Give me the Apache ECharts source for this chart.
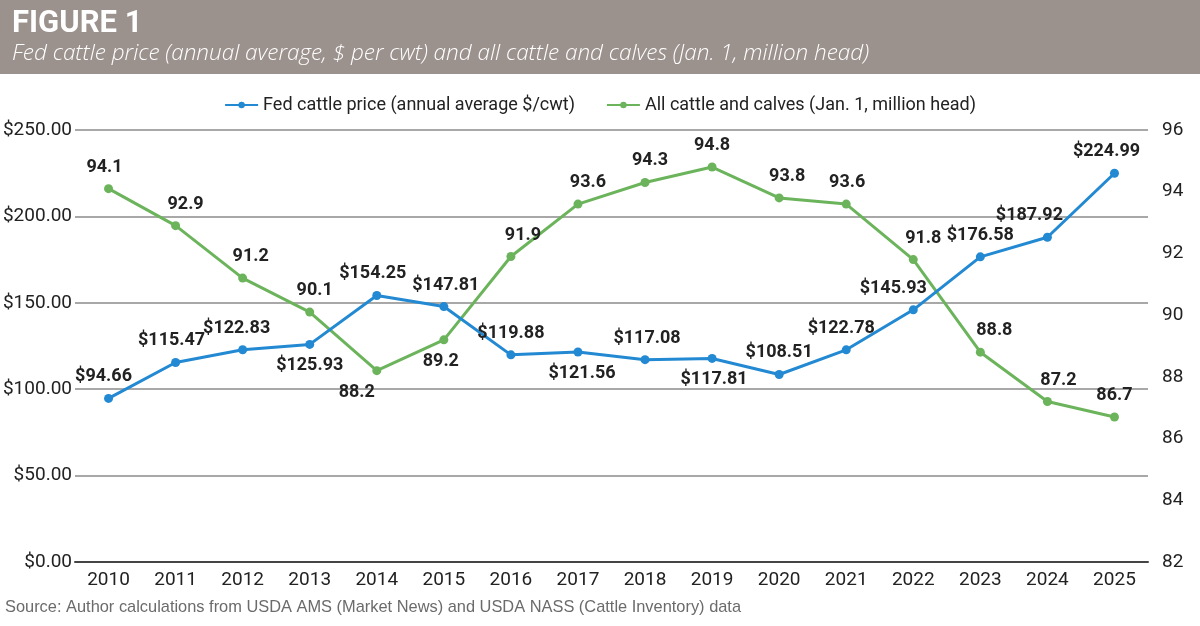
<!DOCTYPE html>
<html>
<head>
<meta charset="utf-8">
<script src="https://cdn.jsdelivr.net/npm/echarts@6/dist/echarts.min.js"></script>
<style>
  html, body { margin: 0; padding: 0; background: #fff; }
  #main { width: 1200px; height: 626px; }
</style>
</head>
<body>
<div id="main"></div>
<script>
// data
let years = ['2010', '2011', '2012', '2013', '2014', '2015', '2016', '2017',
    '2018', '2019', '2020', '2021', '2022', '2023', '2024', '2025'];
let fedPrice = [94.66, 115.47, 122.83, 125.93, 154.25, 147.81, 119.88, 121.56,
    117.08, 117.81, 108.51, 122.78, 145.93, 176.58, 187.92, 224.99];
let cattleHead = [94.1, 92.9, 91.2, 90.1, 88.2, 89.2, 91.9, 93.6,
    94.3, 94.8, 93.8, 93.6, 91.8, 88.8, 87.2, 86.7];

// label placement (style only)
let priceLabelPos = ['top', 'top', 'top', 'bottom', 'top', 'top', 'top', 'bottom',
    'top', 'bottom', 'top', 'top', 'top', 'top', 'top', 'top'];
let priceLabelDx = [-5, -4, -6, 0, -4, 2, 0, 4, 2, 2, 0, -5, -20, 0, -18, -8];
let headLabelPos = ['top', 'top', 'top', 'top', 'bottom', 'bottom', 'top', 'top',
    'top', 'top', 'top', 'top', 'top', 'top', 'top', 'top'];
let headLabelDx = [-4, 10, 8, 5, -20, -3, 12, 10, 5, 0, 8, 1, 10, 14, 11, 0];

let BLUE = '#2289d2';
let GREEN = '#6cb45c';
let sans = 'Roboto, "Liberation Sans", sans-serif';

let chart = echarts.init(document.getElementById('main'));

function buildData(values, pos, dx, fmt) {
    return values.map(function (v, i) {
        return {
            value: v,
            label: {
                position: pos[i],
                offset: [dx[i], pos[i] === 'top' ? -2 : 2],
                formatter: fmt
            }
        };
    });
}

let option = {
    backgroundColor: '#fff',
    animation: false,
    graphic: [
        {
            type: 'rect',
            shape: { x: 0, y: 0, width: 1200, height: 74 },
            style: { fill: '#9b918d' }
        },
        {
            type: 'text',
            left: 12, top: 9,
            style: {
                text: 'FIGURE 1',
                fill: '#fff',
                font: 'bold 31px ' + sans
            }
        },
        {
            type: 'text',
            left: 12, top: 42,
            style: {
                text: 'Fed cattle price (annual average, $ per cwt) and all cattle and calves (Jan. 1, million head)',
                fill: '#fff',
                font: 'italic 300 22.5px "Open Sans", sans-serif'
            }
        },
        {
            type: 'text',
            left: 5, top: 599,
            style: {
                text: 'Source: Author calculations from USDA AMS (Market News) and USDA NASS (Cattle Inventory) data',
                fill: '#6b6b6b',
                font: '16.4px "Liberation Sans", Arial, sans-serif'
            }
        }
    ],
    legend: {
        top: 91,
        left: 'center',
        itemWidth: 33,
        itemHeight: 8,
        itemGap: 31,
        textStyle: {
            fontFamily: sans,
            fontSize: 18,
            color: '#222'
        },
        data: [
            'Fed cattle price (annual average $/cwt)',
            'All cattle and calves (Jan. 1, million head)'
        ]
    },
    grid: {
        left: 75,
        right: 52,
        top: 130,
        bottom: 64,
        containLabel: false,
        outerBoundsMode: 'none'
    },
    xAxis: {
        type: 'category',
        data: years,
        boundaryGap: true,
        axisLine: { lineStyle: { color: '#444', width: 2 } },
        axisTick: { show: false },
        axisLabel: {
            fontFamily: sans,
            fontSize: 19,
            color: '#222',
            margin: 9
        }
    },
    yAxis: [
        {
            type: 'value',
            min: 0,
            max: 250,
            interval: 50,
            axisLine: { show: false },
            axisTick: { show: false },
            splitLine: { lineStyle: { color: '#a8a8a8', width: 2 } },
            axisLabel: {
                fontFamily: sans,
                fontSize: 19,
                color: '#222',
                margin: 3,
                formatter: function (v) { return '$' + v.toFixed(2); }
            }
        },
        {
            type: 'value',
            min: 82,
            max: 96,
            interval: 2,
            axisLine: { show: false },
            axisTick: { show: false },
            splitLine: { show: false },
            axisLabel: {
                fontFamily: sans,
                fontSize: 19,
                color: '#222',
                margin: 14
            }
        }
    ],
    series: [
        {
            name: 'Fed cattle price (annual average $/cwt)',
            type: 'line',
            yAxisIndex: 0,
            data: buildData(fedPrice, priceLabelPos, priceLabelDx, function (p) {
                return '$' + p.value.toFixed(2);
            }),
            symbol: 'circle',
            symbolSize: 9,
            itemStyle: { color: BLUE },
            lineStyle: { color: BLUE, width: 3 },
            label: {
                show: true,
                fontFamily: sans,
                fontWeight: 'bold',
                fontSize: 18,
                color: '#222',
                distance: 6
            },
            z: 3
        },
        {
            name: 'All cattle and calves (Jan. 1, million head)',
            type: 'line',
            yAxisIndex: 1,
            data: buildData(cattleHead, headLabelPos, headLabelDx, function (p) {
                return p.value.toFixed(1);
            }),
            symbol: 'circle',
            symbolSize: 9,
            itemStyle: { color: GREEN },
            lineStyle: { color: GREEN, width: 3 },
            label: {
                show: true,
                fontFamily: sans,
                fontWeight: 'bold',
                fontSize: 18,
                color: '#222',
                distance: 6
            },
            z: 2
        }
    ]
};

chart.setOption(option);
</script>
</body>
</html>
